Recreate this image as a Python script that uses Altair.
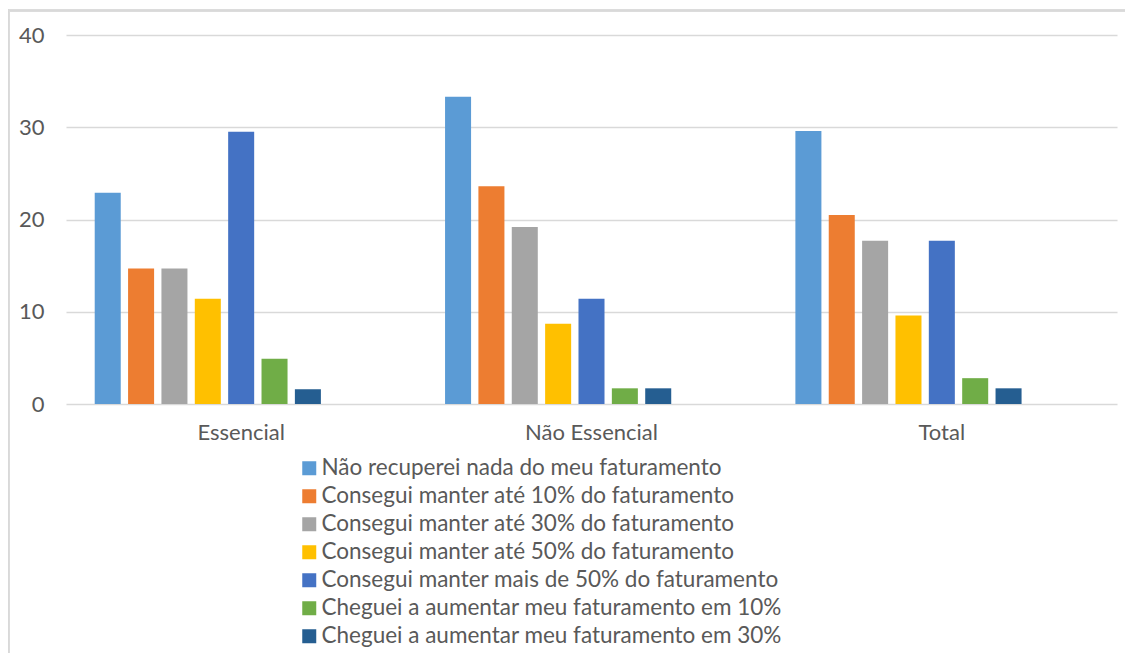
import altair as alt
import pandas as pd

categories = ["Essencial", "Não Essencial", "Total"]
series = [
    "Não recuperei nada do meu faturamento",
    "Consegui manter até 10% do faturamento",
    "Consegui manter até 30% do faturamento",
    "Consegui manter até 50% do faturamento",
    "Consegui manter mais de 50% do faturamento",
    "Cheguei a aumentar meu faturamento em 10%",
    "Cheguei a aumentar meu faturamento em 30%",
]
colors = ["#5B9BD5", "#ED7D31", "#A5A5A5", "#FFC000", "#4472C4", "#70AD47", "#255E91"]
essencial = [22.9, 14.7, 14.7, 11.4, 29.5, 4.9, 1.6]
nao_essencial = [33.3, 23.6, 19.2, 8.7, 11.4, 1.7, 1.7]
total = [29.6, 20.5, 17.7, 9.6, 17.7, 2.8, 1.7]

rows = []
for cat, vals in zip(categories, [essencial, nao_essencial, total]):
    for s, v in zip(series, vals):
        rows.append({"categoria": cat, "serie": s, "valor": v})
df = pd.DataFrame(rows)

# two empty slots at the end of each group, as in the original chart
offset_domain = series + [" ", "  "]

FONT = "Lato"
TXT = "#595959"

bars = alt.Chart(df).mark_bar().encode(
    x=alt.X("categoria:N", sort=categories,
            scale=alt.Scale(paddingInner=0.143, paddingOuter=0.0715),
            axis=alt.Axis(title=None, labelAngle=0, domain=False, ticks=False,
                          labelFontSize=22, labelColor=TXT, labelFont=FONT,
                          labelPadding=18)),
    xOffset=alt.XOffset("serie:N", scale=alt.Scale(domain=offset_domain,
                                                   paddingInner=0.22, paddingOuter=0.11)),
    y=alt.Y("valor:Q", scale=alt.Scale(domain=[0, 40]),
            axis=alt.Axis(title=None, values=[0, 10, 20, 30, 40], domain=False, ticks=False,
                          gridColor="#d9d9d9", gridWidth=1.3,
                          labelFontSize=22, labelColor=TXT, labelFont=FONT,
                          labelPadding=22)),
    color=alt.Color("serie:N", scale=alt.Scale(domain=series, range=colors),
                    legend=alt.Legend(title=None, orient="none", legendX=232, legendY=422,
                                      direction="vertical", symbolType="square",
                                      symbolSize=196, symbolStrokeWidth=0,
                                      labelFontSize=22.5, labelFont=FONT, labelColor=TXT,
                                      labelOffset=1, rowPadding=5, padding=0,
                                      labelLimit=1000)),
)

border_left = alt.Chart(df).mark_rule(color="#d9d9d9", strokeWidth=1.5).encode(
    x=alt.value(-57.5), y=alt.value(-24.5), y2=alt.value(700))
border_top = alt.Chart(df).mark_rule(color="#d9d9d9", strokeWidth=1.5).encode(
    x=alt.value(-57.5), x2=alt.value(1100), y=alt.value(-24.5))

chart = alt.layer(bars, border_left, border_top).properties(
    width=1051, height=369,
    padding={"left": 58, "top": 27, "right": 8, "bottom": 249},
    autosize=alt.AutoSizeParams(type="none"),
).configure(font=FONT).configure_view(stroke=None)

chart.save("out.html", embed_options={"renderer": "svg", "actions": False})
